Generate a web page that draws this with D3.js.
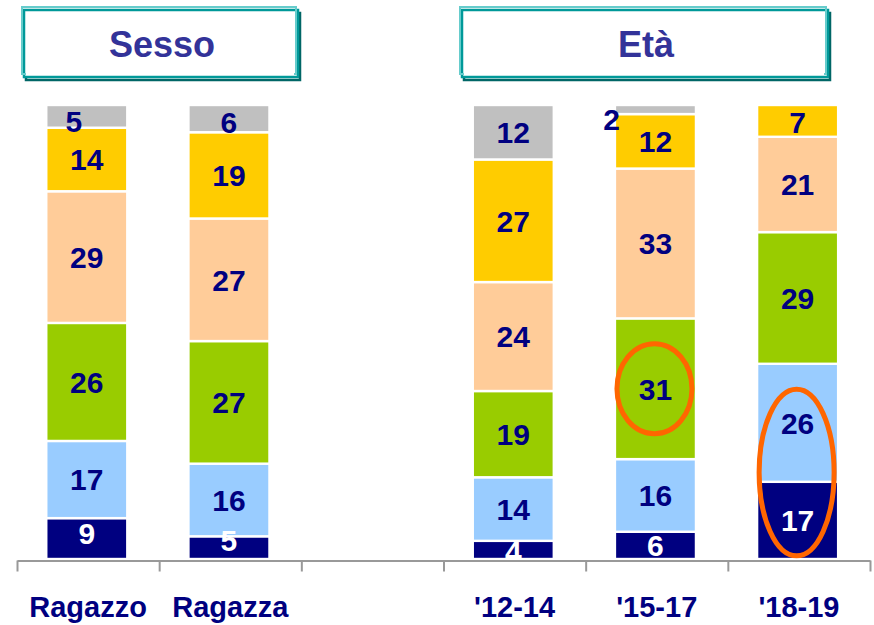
<!DOCTYPE html>
<html>
<head>
<meta charset="utf-8">
<script src="https://cdn.jsdelivr.net/npm/d3@7"></script>
<style>
  html, body { margin: 0; padding: 0; background: #fff; }
  svg { display: block; }
  text { font-family: "Liberation Sans", Arial, sans-serif; font-weight: bold; }
</style>
</head>
<body>
<svg id="chart" width="874" height="625"></svg>
<script>
// ---- data ----
const categories = ["Ragazzo", "Ragazza", "", "'12-14", "'15-17", "'18-19"];
const seriesNames = ["s1", "s2", "s3", "s4", "s5", "s6"];
const s1 = [9, 5, 0, 4, 6, 17];     // navy
const s2 = [17, 16, 0, 14, 16, 26]; // light blue
const s3 = [26, 27, 0, 19, 31, 29]; // green
const s4 = [29, 27, 0, 24, 33, 21]; // peach
const s5 = [14, 19, 0, 27, 12, 7];  // gold
const s6 = [5, 6, 0, 12, 2, 0];     // gray
const groupTitles = ["Sesso", "Età"];

// ---- styles ----
const colors = ["#000080", "#99CCFF", "#99CC00", "#FFCC99", "#FFCC00", "#C0C0C0"];
const labelColors = ["#FFFFFF", "#000080", "#000080", "#000080", "#000080", "#000080"];

const svg = d3.select("#chart");
const keys = categories.map((c, i) => "k" + i);
const x = d3.scaleBand().domain(keys).range([17, 870]).paddingInner(0).paddingOuter(0);
const y = d3.scaleLinear().domain([0, 100]).range([559, 105]);
const barW = x.bandwidth() * 0.57;
const barShift = -1.3;

const rows = categories.map((c, i) => ({ key: keys[i], s1: s1[i], s2: s2[i], s3: s3[i], s4: s4[i], s5: s5[i], s6: s6[i] }));
const stack = d3.stack().keys(seriesNames);
const layers = stack(rows);

// label nudges (layout only)
const nudge = {
  "k0-s6": [-13, 5],
  "k1-s6": [0, 4],
  "k0-s1": [0, -5],
  "k1-s1": [0, -7],
  "k3-s1": [0, 1],
  "k5-s5": [0, 1]
};

const g = svg.append("g");
layers.forEach((layer, si) => {
  layer.forEach(d => {
    const v = d[1] - d[0];
    if (!v) return;
    const k = d.data.key;
    const bx = x(k) + (x.bandwidth() - barW) / 2 + barShift;
    g.append("rect")
      .attr("x", bx)
      .attr("y", y(d[1]))
      .attr("width", barW)
      .attr("height", y(d[0]) - y(d[1]))
      .attr("fill", colors[si])
      .attr("stroke", "#fff")
      .attr("stroke-width", 2.4);
  });
});

// axis with boundary ticks
const xb = d3.scaleLinear().domain([0, categories.length]).range(x.range());
const axisG = svg.append("g").attr("transform", "translate(0,560.5)")
  .call(d3.axisBottom(xb).tickValues(d3.range(categories.length + 1)).tickSize(11).tickSizeOuter(0).tickFormat(""));
axisG.select(".domain").attr("stroke", "#999").attr("stroke-width", 2);
axisG.selectAll(".tick line").attr("stroke", "#999").attr("stroke-width", 2);

// category labels via band axis
const labAxis = svg.append("g").attr("transform", "translate(0,560)")
  .call(d3.axisBottom(x).tickSize(0).tickFormat((k, i) => categories[i]));
labAxis.select(".domain").remove();
labAxis.selectAll(".tick text")
  .attr("dy", 0).attr("y", 57)
  .attr("fill", "#000080")
  .style("font-size", "29px")
  .style("font-family", "'Liberation Sans', Arial, sans-serif")
  .style("font-weight", "bold");

// value labels
layers.forEach((layer, si) => {
  layer.forEach(d => {
    const v = d[1] - d[0];
    if (!v) return;
    const k = d.data.key;
    const id = k + "-" + seriesNames[si];
    let cx = x(k) + x.bandwidth() / 2 + barShift;
    let cy = (y(d[0]) + y(d[1])) / 2;
    let anchor = "middle";
    if (v < 4) { // too small: label beside bar
      cx = x(k) + (x.bandwidth() - barW) / 2 + barShift + 5;
      cy = y(d[1]) + 14;
      anchor = "end";
    }
    const n = nudge[id] || [0, 0];
    g.append("text")
      .attr("x", cx + n[0])
      .attr("y", cy + n[1])
      .attr("dy", "0.36em")
      .attr("text-anchor", anchor)
      .attr("fill", labelColors[si])
      .style("font-size", "30px")
      .text(v);
  });
});

// highlight ellipses (annotation, anchored to data)
const highlights = [
  { key: "k4", lo: 27.6, hi: 47.4 },
  { key: "k5", lo: 0.7, hi: 37.4 }
];
highlights.forEach(h => {
  svg.append("ellipse")
    .attr("cx", x(h.key) + x.bandwidth() / 2 + barShift - 1)
    .attr("cy", (y(h.lo) + y(h.hi)) / 2)
    .attr("rx", 37.5)
    .attr("ry", (y(h.lo) - y(h.hi)) / 2)
    .attr("fill", "none")
    .attr("stroke", "#FF6600")
    .attr("stroke-width", 5);
});

// group title boxes
const boxes = [
  { title: groupTitles[0], x0: 22, x1: 296 },
  { title: groupTitles[1], x0: 460, x1: 826 }
];
boxes.forEach(b => {
  const bg = svg.append("g");
  bg.append("rect").attr("x", b.x0 + 4).attr("y", 13).attr("width", b.x1 - b.x0).attr("height", 67)
    .attr("fill", "none").attr("stroke", "#006666").attr("stroke-width", 2.5);
  bg.append("rect").attr("x", b.x0 + 2).attr("y", 10).attr("width", b.x1 - b.x0).attr("height", 67)
    .attr("fill", "#fff").attr("stroke", "#009999").attr("stroke-width", 2.5);
  bg.append("rect").attr("x", b.x0).attr("y", 7).attr("width", b.x1 - b.x0).attr("height", 67)
    .attr("fill", "none").attr("stroke", "#66CCCC").attr("stroke-width", 2);
  bg.append("rect").attr("x", b.x0 + 4).attr("y", 13).attr("width", b.x1 - b.x0 - 6).attr("height", 62)
    .attr("fill", "#fff").attr("stroke", "none");
  bg.append("text")
    .attr("x", (b.x0 + b.x1) / 2 + 3)
    .attr("y", 57)
    .attr("text-anchor", "middle")
    .attr("fill", "#333399")
    .style("font-size", "36px")
    .text(b.title);
});
</script>
</body>
</html>
